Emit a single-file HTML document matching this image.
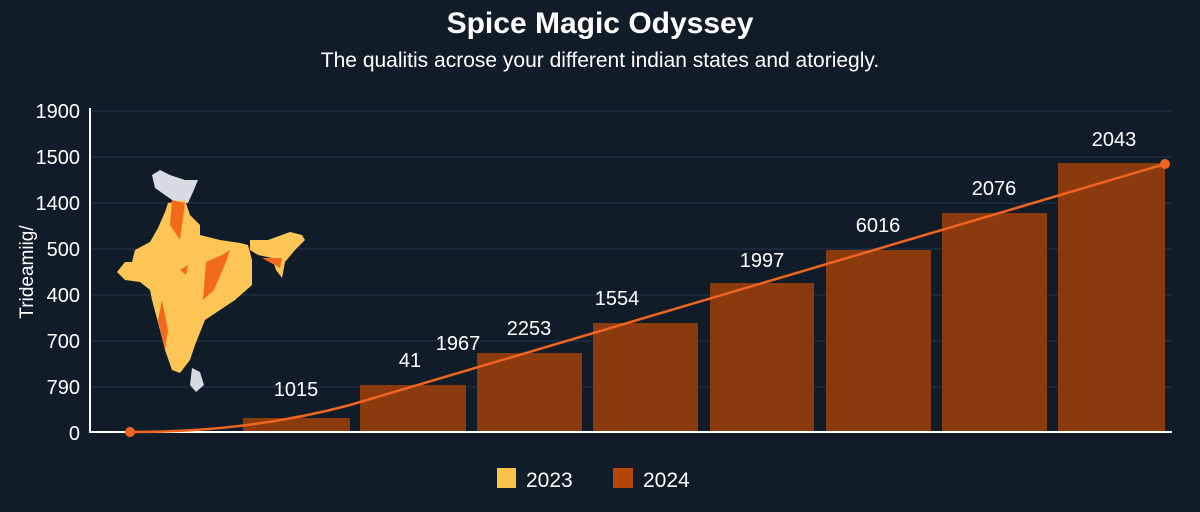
<!DOCTYPE html>
<html><head><meta charset="utf-8"><style>
html,body{margin:0;padding:0;background:#111c29;}
svg{display:block;font-family:"Liberation Sans",sans-serif;}
</style></head><body>
<svg width="1200" height="512" viewBox="0 0 1200 512">
<rect width="1200" height="512" fill="#111c29"/>
<text x="600" y="33" text-anchor="middle" font-size="30" font-weight="bold" fill="#fff">Spice Magic Odyssey</text>
<text x="600" y="67" text-anchor="middle" font-size="21" fill="#fff">The qualitis acrose your different indian states and atoriegly.</text>
<g stroke="#25344a" stroke-width="1">
<line x1="90" y1="111" x2="1172" y2="111"/><line x1="90" y1="157" x2="1172" y2="157"/>
<line x1="90" y1="203" x2="1172" y2="203"/><line x1="90" y1="249" x2="1172" y2="249"/>
<line x1="90" y1="295" x2="1172" y2="295"/><line x1="90" y1="341" x2="1172" y2="341"/>
<line x1="90" y1="387" x2="1172" y2="387"/>
</g>
<g font-size="20" fill="#fff" text-anchor="end">
<text x="80" y="118">1900</text><text x="80" y="164">1500</text><text x="80" y="210">1400</text>
<text x="80" y="256">500</text><text x="80" y="302">400</text><text x="80" y="348">700</text>
<text x="80" y="394">790</text><text x="80" y="440">0</text>
</g>
<text transform="translate(33,272) rotate(-90)" text-anchor="middle" font-size="19" fill="#fff">Trideamiig/</text>
<!-- map -->
<path d="M152 175 L160 170 L170 175 L185 180 L198 180 L193 192 L188 203 L175 202 L165 195 L155 188 Z" fill="#d7dbe2"/>
<path d="M168 203 L185 200 L190 215 L200 225 L200 235 L220 240 L240 243 L248 245 L252 260 L252 285 L235 300 L220 310 L205 320 L195 345 L190 360 L180 373 L172 370 L165 350 L160 330 L152 300 L150 290 L140 282 L125 280 L117 272 L125 262 L132 262 L135 250 L150 242 L158 228 L165 212 Z" fill="#fcc555"/>
<path d="M250 240 L268 240 L290 232 L302 235 L305 240 L295 250 L285 262 L282 278 L276 270 L272 258 L258 255 L250 250 Z" fill="#fcc555"/>
<path d="M172 200 L185 203 L183 218 L180 240 L170 225 Z M206 262 L222 255 L230 250 L226 262 L214 290 L203 300 Z M262 258 L282 258 L280 268 Z M162 300 L168 330 L165 350 L158 320 Z M180 270 L188 265 L186 275 Z" fill="#f26a1b"/>
<path d="M192 368 L200 372 L204 385 L196 392 L190 385 Z" fill="#d7dbe2"/>
<!-- bars -->
<g fill="#8a3a0c">
<rect x="243" y="418" width="107" height="14"/><rect x="360" y="385" width="106" height="47"/>
<rect x="477" y="353" width="105" height="79"/><rect x="593" y="323" width="105" height="109"/>
<rect x="710" y="283" width="104" height="149"/><rect x="826" y="250" width="105" height="182"/>
<rect x="942" y="213" width="105" height="219"/><rect x="1058" y="163" width="107" height="269"/>
</g>
<line x1="90" y1="108" x2="90" y2="433" stroke="#fff" stroke-width="2"/>
<line x1="89" y1="432" x2="1172" y2="432" stroke="#fff" stroke-width="2"/>
<path d="M130 432 Q250 432 350 405 L1165 164" fill="none" stroke="#f0651f" stroke-width="2.5"/>
<circle cx="130" cy="432" r="5" fill="#f0651f"/><circle cx="1165" cy="164" r="5" fill="#f0651f"/>
<g font-size="20" fill="#fff" text-anchor="middle">
<text x="296" y="396">1015</text><text x="410" y="367">41</text><text x="458" y="350">1967</text>
<text x="529" y="335">2253</text><text x="617" y="305">1554</text><text x="762" y="267">1997</text>
<text x="878" y="232">6016</text><text x="994" y="195">2076</text><text x="1114" y="146">2043</text>
</g>
<rect x="497" y="468" width="19" height="20" fill="#fcc148"/>
<text x="526" y="487" font-size="21" fill="#fff">2023</text>
<rect x="613" y="468" width="20" height="20" fill="#b84508"/>
<text x="643" y="487" font-size="21" fill="#fff">2024</text>
</svg>
</body></html>
